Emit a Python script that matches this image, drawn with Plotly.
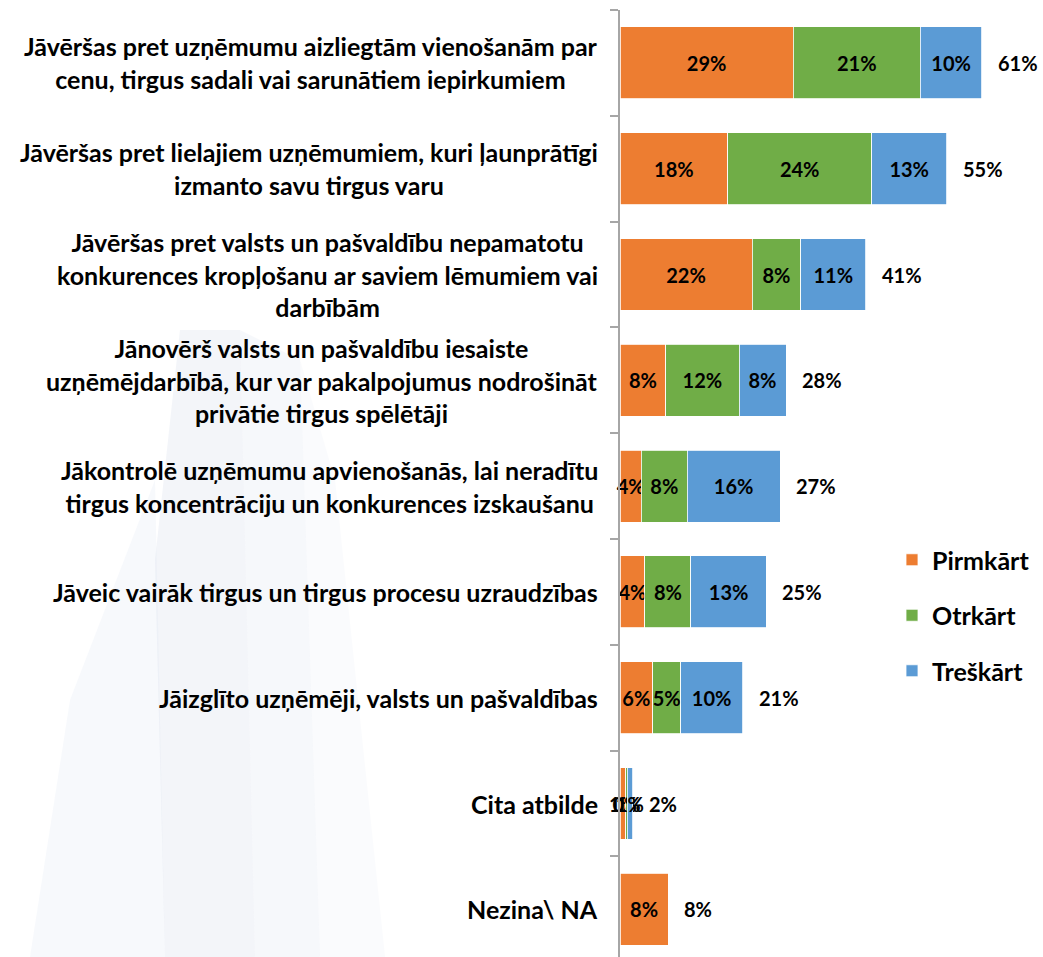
import plotly.graph_objects as go

categories = [
    "Jāvēršas pret uzņēmumu aizliegtām vienošanām par<br>cenu, tirgus sadali vai sarunātiem iepirkumiem",
    "Jāvēršas pret lielajiem uzņēmumiem, kuri ļaunprātīgi<br>izmanto savu tirgus varu",
    "Jāvēršas pret valsts un pašvaldību nepamatotu<br>konkurences kropļošanu ar saviem lēmumiem vai<br>darbībām",
    "Jānovērš valsts un pašvaldību iesaiste<br>uzņēmējdarbībā, kur var pakalpojumus nodrošināt<br>privātie tirgus spēlētāji",
    "Jākontrolē uzņēmumu apvienošanās, lai neradītu<br>tirgus koncentrāciju un konkurences izskaušanu",
    "Jāveic vairāk tirgus un tirgus procesu uzraudzības",
    "Jāizglīto uzņēmēji, valsts un pašvaldības",
    "Cita atbilde",
    "Nezina\\ NA",
]
series_names = ["Pirmkārt", "Otrkārt", "Treškārt"]
# values (labels show rounded values)
pirmkart = [29.1, 18.1, 22.2, 7.7, 3.6, 4.2, 5.5, 1.0, 8.1]
otrkart = [21.4, 24.2, 8.2, 12.3, 7.7, 7.7, 4.7, 0.2, 0.0]
treskart = [10.3, 12.6, 10.9, 7.9, 15.6, 12.7, 10.4, 0.9, 0.0]
totals = [61, 55, 41, 28, 27, 25, 21, 2, 8]

colors = ["#ED7D31", "#70AD47", "#5B9BD5"]
FONT = "Lato"

W, H = 1043, 957
PLOT_L, PLOT_T, PLOT_R, PLOT_B = 620, 10, 1037, 957
ML, MT = PLOT_L, PLOT_T
PW, PH = PLOT_R - PLOT_L, PLOT_B - PLOT_T
MR, MB = W - ML - PW, H - MT - PH
PX_PER_PCT = 5.95
CAT_PX = 105.8

fig = go.Figure()
for name, vals, col in zip(series_names, [pirmkart, otrkart, treskart], colors):
    fig.add_trace(go.Bar(
        y=categories, x=vals, name=name, orientation="h",
        marker=dict(color=col, line=dict(color="white", width=0.8)),
        width=0.68,
        text=[f"{v:.0f}%" if v > 0 else "" for v in vals],
        textposition="inside", insidetextanchor="middle", textangle=0,
        constraintext="none",
        textfont=dict(family=FONT, size=20, color="black", weight="bold"),
        legendgroup=name, cliponaxis=False, hoverinfo="x+name",
    ))

stack_ends = [a + b + c for a, b, c in zip(pirmkart, otrkart, treskart)]
annotations = []
for cat, end, tot in zip(categories, stack_ends, totals):
    annotations.append(dict(
        x=end, y=cat, xref="x", yref="y", text=f"{tot}%", showarrow=False,
        xanchor="left", xshift=14,
        font=dict(family=FONT, size=20, color="black", weight="bold"),
    ))
    annotations.append(dict(
        x=0, y=cat, xref="paper", yref="y", text=cat, showarrow=False,
        xanchor="right", xshift=-20, align="center",
        font=dict(family=FONT, size=25, color="black", weight="bold"),
    ))


def px2paper(px, py):
    return (px - PLOT_L) / PW, (PLOT_B - py) / PH


def poly(points, color):
    pts = [px2paper(x, y) for x, y in points]
    path = "M " + " L ".join(f"{a:.4f},{b:.4f}" for a, b in pts) + " Z"
    return dict(type="path", path=path, xref="paper", yref="paper",
                fillcolor=color, line=dict(width=0), layer="below")


shapes = [
    poly([(30, 957), (70, 700), (155, 480), (165, 957)], "rgba(232,237,245,0.35)"),
    poly([(165, 957), (155, 560), (180, 330), (240, 330), (255, 957)], "rgba(214,223,236,0.3)"),
    poly([(255, 957), (240, 330), (300, 360), (320, 957)], "rgba(224,231,242,0.3)"),
    poly([(320, 957), (300, 360), (335, 480), (385, 957)], "rgba(236,240,247,0.25)"),
]

LEG_L, LEG_T = 892, 537
fig.update_layout(
    width=W, height=H,
    margin=dict(l=ML, r=MR, t=MT, b=MB, pad=0),
    barmode="stack",
    paper_bgcolor="white", plot_bgcolor="rgba(0,0,0,0)",
    font=dict(family=FONT, color="black"),
    xaxis=dict(range=[0, PW / PX_PER_PCT], visible=False, fixedrange=True),
    yaxis=dict(
        type="category", range=[-0.5 + PH / CAT_PX, -0.5],
        showticklabels=False, showline=True, linecolor="#A6A6A6", linewidth=1.5,
        ticks="outside", tickson="boundaries", ticklen=8, tickcolor="#A6A6A6",
        tickwidth=1.5, showgrid=False, zeroline=False, fixedrange=True,
    ),
    legend=dict(
        x=(LEG_L - PLOT_L) / PW, y=(PLOT_B - LEG_T) / PH,
        xanchor="left", yanchor="top",
        traceorder="grouped", tracegroupgap=20,
        font=dict(family=FONT, size=25, color="black", weight="bold"),
        bgcolor="rgba(0,0,0,0)", itemwidth=30,
    ),
    annotations=annotations,
    shapes=shapes,
)

fig.write_html(
    "out.html",
    config={"displayModeBar": False},
    post_script="document.body.style.margin='0';document.body.style.overflow='hidden';",
)
